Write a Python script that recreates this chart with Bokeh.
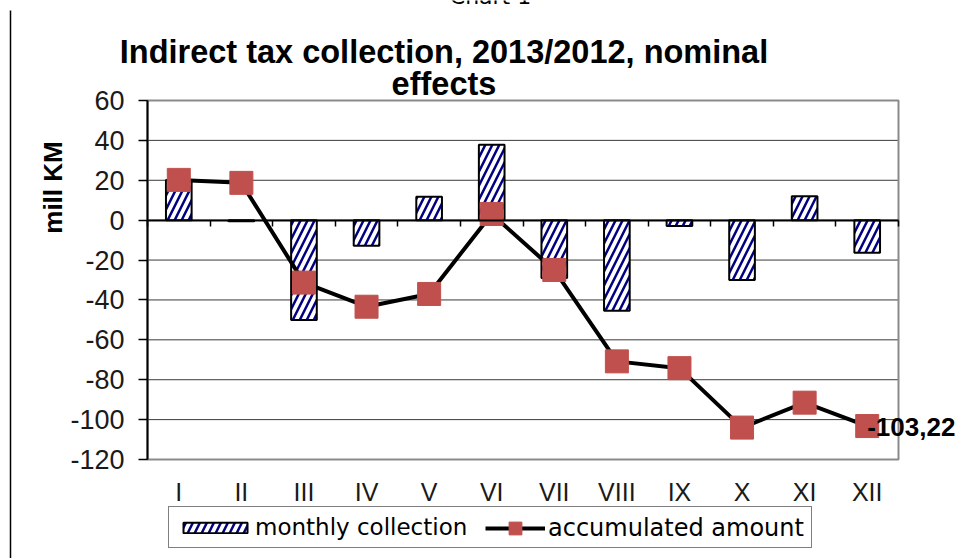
import math
from bokeh.plotting import figure
from bokeh.models import (ColumnDataSource, Range1d, LinearAxis, FixedTicker, Legend,
                          LegendItem, Label, Arrow)
from bokeh.embed import file_html
from bokeh.resources import INLINE

# Months (Roman numerals) and the 2013/2012 differences, mill KM
months = ["I", "II", "III", "IV", "V", "VI", "VII", "VIII", "IX", "X", "XI", "XII"]
monthly_collection = [20.2, -0.5, -50.1, -12.8, 11.8, 37.8, -29.0, -45.4, -2.9, -30.0, 12.0, -16.3]
accumulated_amount = [20.2, 18.7, -31.3, -43.4, -37.0, 3.1, -25.0, -70.8, -74.2, -104.0, -91.5, -103.22]
y_ticks = [60, 40, 20, 0, -20, -40, -60, -80, -100, -120]

pos = list(range(1, len(months) + 1))
bounds = [i + 0.5 for i in range(len(months) + 1)]
src = ColumnDataSource(dict(x=pos, monthly=monthly_collection, acc=accumulated_amount))

# page size and where the plotting area sits on it (pixels from the top-left)
W, H = 956, 558
AREA_L, AREA_R, AREA_T, AREA_B = 147, 898, 100, 459
X_LO, X_HI = bounds[0], bounds[-1]
Y_LO, Y_HI = min(y_ticks), max(y_ticks)

# the frame covers the whole page; the ranges are stretched so the data box lands on the area
kx = (AREA_R - AREA_L) / (X_HI - X_LO)
ky = (AREA_B - AREA_T) / (Y_HI - Y_LO)
x_range = Range1d(X_LO - AREA_L / kx, X_HI + (W - AREA_R) / kx)
y_range = Range1d(Y_LO - (H - AREA_B) / ky, Y_HI + AREA_T / ky)

SANS = "Liberation Sans"
WIDE = "DejaVu Sans"

p = figure(width=W, height=H, output_backend="svg", toolbar_location=None, title=None,
           x_range=x_range, y_range=y_range, min_border=0,
           x_axis_type=None, y_axis_type=None)
p.background_fill_color = "white"
p.border_fill_color = "white"
p.outline_line_color = None
p.grid.visible = False

# horizontal grid lines and the grey box round the plotting area
p.segment(x0=X_LO, x1=X_HI, y0=y_ticks, y1=y_ticks, line_color="#3a3a3a", line_width=1)
p.quad(left=X_LO, right=X_HI, bottom=Y_LO, top=Y_HI, fill_color=None,
       line_color="#8a8a8a", line_width=2)

# value axis on the left edge of the area
yaxis = LinearAxis(ticker=FixedTicker(ticks=y_ticks), fixed_location=X_LO, bounds=(Y_LO, Y_HI),
                   major_label_overrides={t: str(t) for t in y_ticks})
yaxis.axis_line_color = "black"
yaxis.axis_line_width = 2
yaxis.major_tick_line_color = "black"
yaxis.major_tick_line_width = 1.5
yaxis.major_tick_out = 9
yaxis.major_tick_in = 0
yaxis.minor_tick_line_color = None
yaxis.major_label_text_font = SANS
yaxis.major_label_text_font_size = "27px"
yaxis.major_label_text_color = "#1a1a1a"
yaxis.major_label_standoff = 14
p.add_layout(yaxis, "left")

# unit label, upright beside the upper half of the axis
p.add_layout(Label(x=52, y=H - 187, x_units="screen", y_units="screen", text="mill KM",
                   angle=math.pi / 2, text_align="center", text_baseline="middle",
                   text_font=SANS, text_font_style="bold", text_font_size="26px",
                   text_color="black"))

# zero line, with small ticks between the months
xzero = LinearAxis(ticker=FixedTicker(ticks=[], minor_ticks=bounds), fixed_location=0,
                   bounds=(X_LO, X_HI))
xzero.axis_line_color = "black"
xzero.axis_line_width = 2
xzero.major_tick_line_color = None
xzero.minor_tick_line_color = "black"
xzero.minor_tick_line_width = 1.5
xzero.minor_tick_out = 6
xzero.minor_tick_in = 0
p.add_layout(xzero, "below")

# month names under the area
xlab = LinearAxis(ticker=FixedTicker(ticks=pos), fixed_location=Y_LO, bounds=(X_LO, X_HI),
                  major_label_overrides={i: m for i, m in zip(pos, months)})
xlab.axis_line_color = None
xlab.major_tick_line_color = None
xlab.minor_tick_line_color = None
xlab.major_label_text_font = SANS
xlab.major_label_text_font_size = "25px"
xlab.major_label_text_color = "#1a1a1a"
xlab.major_label_standoff = 12
p.add_layout(xlab, "below")

bars = p.vbar(x="x", top="monthly", bottom=0, width=0.41, source=src,
              fill_color="white", line_color="black", line_width=2,
              hatch_pattern="/", hatch_color="#000080", hatch_weight=2.5, hatch_scale=14)
line = p.line(x="x", y="acc", source=src, line_color="black", line_width=4)
pts = p.scatter(x="x", y="acc", source=src, marker="square", size=23,
                fill_color="#C0504D", line_color="#C0504D")

# closing value of the accumulated series
last = accumulated_amount[-1]
p.add_layout(Label(x=pos[-1], y=last, text=f"{last:.2f}".replace(".", ","),
                   text_align="left", text_baseline="middle", x_offset=0, y_offset=-1,
                   text_font=SANS, text_font_style="bold", text_font_size="26px",
                   text_color="black"))

# title, two lines (screen positions measured from the bottom-left of the page)
title_1 = "Indirect tax collection, 2013/2012, nominal"
title_2 = "effects"
for txt, base_y in [(title_1, 51), (title_2, 83)]:
    p.add_layout(Label(x=443.5, y=H - base_y, x_units="screen", y_units="screen", text=txt,
                       text_align="center", text_baseline="alphabetic",
                       text_font=SANS, text_font_style="bold", text_font_size="32.5px",
                       text_color="black"))

# page caption at the very top, running off the page edge
p.add_layout(Label(x=490, y=H + 4, x_units="screen", y_units="screen",
                   text="Chart 1", text_align="center", text_baseline="alphabetic",
                   text_font=WIDE, text_font_size="22px", text_color="black"))

# page rule on the left
p.add_layout(Arrow(end=None, x_start=10, y_start=H - 10, x_end=10, y_end=-2,
                   start_units="screen", end_units="screen", line_color="black", line_width=1.5))

# legend: framed box with the bar item, plus the line item laid over it
leg1 = Legend(items=[LegendItem(label="monthly collection", renderers=[bars])],
              orientation="horizontal", location=(168, H - 548),
              glyph_width=80, glyph_height=13, label_height=28, padding=6, margin=0,
              label_standoff=0, label_width=550, spacing=0,
              border_line_color="black", border_line_width=1.5,
              background_fill_color="white", background_fill_alpha=1,
              label_text_font=WIDE, label_text_font_size="23px", label_text_color="black")
leg2 = Legend(items=[LegendItem(label="accumulated amount", renderers=[line, pts])],
              orientation="horizontal", location=(485 - 4, H - 548),
              glyph_width=60, glyph_height=32, padding=4, margin=0,
              label_standoff=3, spacing=0,
              border_line_alpha=0, background_fill_alpha=0,
              label_text_font=WIDE, label_text_font_size="24px", label_text_color="black")
p.add_layout(leg1)
p.add_layout(leg2)

open("out.html", "w").write(file_html(p, INLINE))
